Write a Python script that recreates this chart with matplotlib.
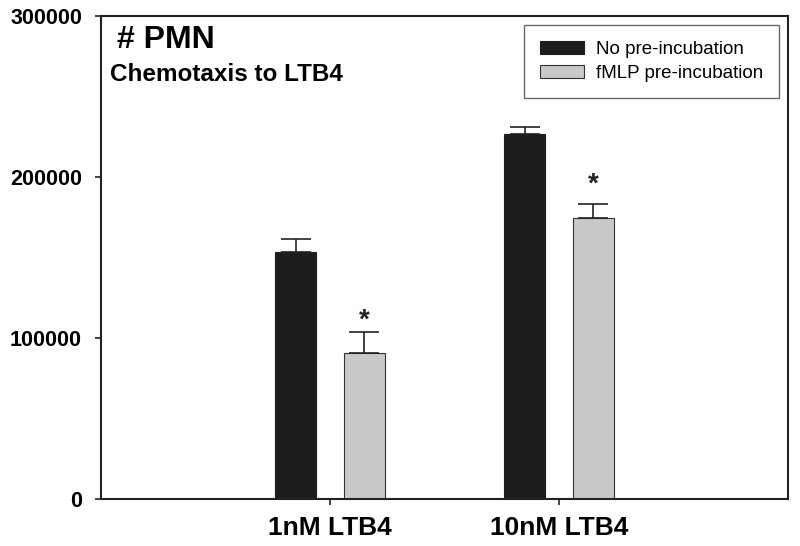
import matplotlib.pyplot as plt
import numpy as np

plt.rcParams['font.family'] = ['Liberation Sans', 'DejaVu Sans']

categories = ['1nM LTB4', '10nM LTB4']
no_preinc = [153500, 226500]
no_preinc_err = [8000, 4500]
fmlp_preinc = [90500, 174500]
fmlp_preinc_err = [13500, 8500]
star_y = [110500, 195000]

x = np.array([1, 2])
w = 0.178
off = 0.15

fig = plt.figure(figsize=(8, 5.46), dpi=100)
ax = fig.add_axes([0.126, 0.086, 0.859, 0.885])

ekw = dict(ecolor='#222', elinewidth=1.2, capsize=11, capthick=1.2)
ax.bar(x - off, no_preinc, w, color='#1e1c1d', edgecolor='#1e1c1d', linewidth=0.8,
       yerr=[np.zeros(2), no_preinc_err], error_kw=ekw, label='No pre-incubation')
ax.bar(x + off, fmlp_preinc, w, color='#c8c9cb', edgecolor='#333', linewidth=0.8,
       yerr=[np.zeros(2), fmlp_preinc_err], error_kw=ekw, label='fMLP pre-incubation')

for xi, sy in zip(x + off, star_y):
    ax.text(xi, sy, '*', ha='center', va='center', fontsize=20, fontweight='bold', color='#222')

ax.set_xlim(0, 3)
ax.set_ylim(0, 300000)
ax.set_xticks(x)
ax.set_xticklabels(categories, fontsize=19, fontweight='bold')
ax.set_yticks([0, 100000, 200000, 300000])
ax.set_yticklabels(['0', '100000', '200000', '300000'], fontsize=15.5, fontweight='bold')
ax.tick_params(axis='both', direction='out', length=4.5, width=1.2, color='#222')
ax.tick_params(axis='y', pad=9)
ax.tick_params(axis='x', pad=7.5)
for s in ax.spines.values():
    s.set_linewidth(1.5)
    s.set_color('#222')

ax.text(0.024, 0.982, '# PMN', transform=ax.transAxes, fontsize=23, fontweight='bold', va='top')
ax.text(0.013, 0.903, 'Chemotaxis to LTB4', transform=ax.transAxes, fontsize=17.5, fontweight='bold', va='top')

leg = ax.legend(loc='upper right', bbox_to_anchor=(0.987, 0.981), borderaxespad=0, fontsize=13.5,
                frameon=True, fancybox=False, edgecolor='#444', borderpad=0.87, handlelength=2.35,
                handleheight=0.7, handletextpad=0.6, labelspacing=0.35)
leg.get_frame().set_linewidth(1.0)

fig.savefig('out.png', dpi=100)
